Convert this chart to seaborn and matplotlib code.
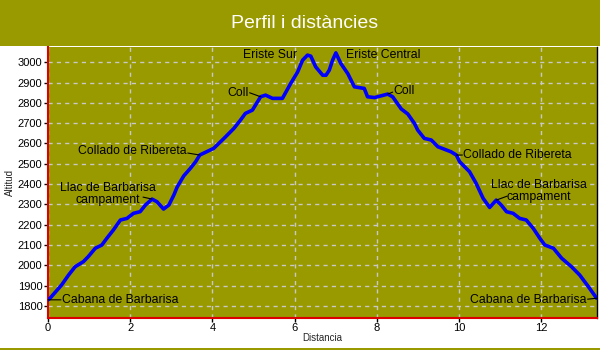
import numpy as np
import pandas as pd
import matplotlib
matplotlib.use("Agg")
import matplotlib.pyplot as plt
import seaborn as sns
from matplotlib.patches import Rectangle

# ---- data ----
dist = [0.00, 0.05, 0.33, 0.50, 0.66, 0.86, 0.98, 1.15, 1.31, 1.43, 1.59, 1.76, 1.92,
        2.08, 2.24, 2.37, 2.53, 2.65, 2.81, 2.94, 3.06, 3.14, 3.30, 3.46, 3.59, 3.69,
        4.03, 4.28, 4.52, 4.68, 4.80, 4.97, 5.17, 5.29, 5.46, 5.70, 5.90, 6.07, 6.19,
        6.31, 6.39, 6.51, 6.68, 6.76, 6.84, 6.92, 7.00, 7.12, 7.29, 7.45, 7.69, 7.77,
        7.94, 8.26, 8.38, 8.59, 8.75, 8.91, 8.99, 9.15, 9.32, 9.48, 9.80, 9.93, 10.01,
        10.25, 10.41, 10.58, 10.74, 10.90, 11.02, 11.15, 11.31, 11.47, 11.63, 11.80,
        11.96, 12.08, 12.29, 12.49, 12.73, 12.93, 13.14, 13.34]
alt = [1830, 1838, 1903, 1952, 1993, 2018, 2043, 2084, 2100, 2133, 2174, 2223, 2231,
       2256, 2264, 2297, 2326, 2313, 2277, 2297, 2346, 2385, 2440, 2477, 2510, 2543,
       2576, 2625, 2674, 2715, 2748, 2764, 2830, 2838, 2822, 2822, 2895, 2952, 3010,
       3035, 3030, 2977, 2936, 2936, 2961, 3010, 3046, 2994, 2944, 2879, 2871, 2830,
       2826, 2843, 2830, 2770, 2745, 2699, 2666, 2625, 2617, 2584, 2559, 2543, 2510,
       2461, 2404, 2330, 2285, 2321, 2297, 2264, 2256, 2231, 2223, 2182,
       2133, 2100, 2084, 2035, 1993, 1952, 1895, 1838]

labels = ["Cabana de Barbarisa", "Llac de Barbarisa\ncampament", "Collado de Ribereta",
          "Coll", "Eriste Sur", "Eriste Central", "Coll", "Collado de Ribereta",
          "Llac de Barbarisa\ncampament", "Cabana de Barbarisa"]
label_x = [0.00, 2.53, 3.69, 5.17, 6.31, 7.00, 8.26, 9.93, 10.90, 13.34]

x_ticks = [0, 2, 4, 6, 8, 10, 12]
y_ticks = list(range(1800, 3001, 100))

title = "Perfil i distàncies"
xlabel = "Distancia"
ylabel = "Altitud"

# ---- style ----
OLIVE = "#999900"
sns.set_theme(style="white")
plt.rcParams["font.family"] = ["Liberation Sans", "DejaVu Sans"]

fig = plt.figure(figsize=(6, 3.5), dpi=100)
fig.patch.set_facecolor("white")
# title band
fig.patches.append(Rectangle((0, 1 - 46 / 350), 1, 46 / 350, transform=fig.transFigure,
                             facecolor=OLIVE, edgecolor="none", zorder=0))
fig.patches.append(Rectangle((0, 0), 1, 2 / 350, transform=fig.transFigure,
                             facecolor=OLIVE, edgecolor="none", zorder=0))
fig.text(305 / 600, 1 - 24 / 350, title, color="white", fontsize=14,
         ha="center", va="center")

ax = fig.add_axes([48 / 600, 1 - 317.7 / 350, (597 - 48) / 600, (317.7 - 47) / 350])
ax.set_facecolor(OLIVE)

df = pd.DataFrame({"Distancia": dist, "Altitud": alt})
sns.lineplot(data=df, x="Distancia", y="Altitud", sort=False, ax=ax,
             color="#0000ff", lw=2.6, zorder=3)

ax.set_xlim(0, 13.35)
ax.set_ylim(1742, 3075)
ax.set_xticks(x_ticks)
ax.set_yticks(y_ticks)
ax.tick_params(axis="both", labelsize=8, colors="black", length=3, width=1,
               direction="out", pad=1, left=True, bottom=True)
ax.grid(True, color="#c8c8c8", linestyle=(0, (3, 3)), linewidth=1)
ax.set_axisbelow(True)
for s in ["left", "bottom"]:
    ax.spines[s].set_color("#dd0000")
    ax.spines[s].set_linewidth(1.5)
ax.spines["right"].set_color("black")
ax.spines["right"].set_linewidth(1)
ax.spines["top"].set_visible(False)
ax.set_xlabel(xlabel, fontsize=7, labelpad=0)
ax.set_ylabel(ylabel, fontsize=7, labelpad=2)

# annotations: text offset (px), alignment, leader-line start offset (px)
ann_style = [
    ((14, 0), "left", (13, 0)),
    ((-44, 5), "center", (-9, 2)),
    ((-13, 4), "right", (-12, 2)),
    ((-12, 4), "right", (-11, 4)),
    ((-10, 0), "right", None),
    ((10, -2), "left", None),
    ((6, 3), "left", (5, 2)),
    ((7, 0), "left", (6, 0)),
    ((43, 9), "center", (11, 4)),
    ((-10, -2), "right", (-9, -1)),
]
for lab, lx, (toff, ha, loff) in zip(labels, label_x, ann_style):
    ly = float(np.interp(lx, dist, alt))
    ax.annotate(lab, xy=(lx, ly), xytext=toff, textcoords="offset pixels",
                ha=ha, va="center", fontsize=8.8, color="black",
                multialignment="center", linespacing=0.95, zorder=5,
                annotation_clip=False)
    if loff is not None:
        ax.annotate("", xy=(lx, ly), xytext=loff, textcoords="offset pixels",
                    arrowprops=dict(arrowstyle="-", color="black", lw=0.8,
                                    shrinkA=0, shrinkB=0), zorder=5,
                    annotation_clip=False)

fig.savefig("out.png", dpi=100)
